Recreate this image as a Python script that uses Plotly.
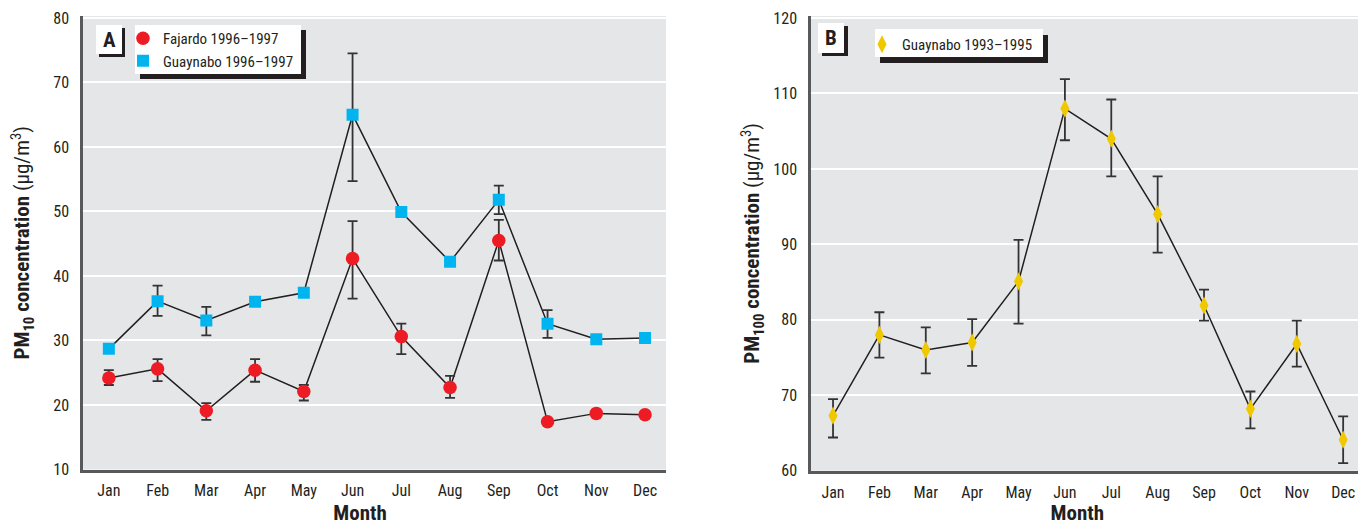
import plotly.graph_objects as go

months = ["Jan", "Feb", "Mar", "Apr", "May", "Jun", "Jul", "Aug", "Sep", "Oct", "Nov", "Dec"]

# Panel A: PM10 (µg/m3)
fajardo = [24.2, 25.6, 19.1, 25.4, 22.1, 42.7, 30.6, 22.7, 45.5, 17.4, 18.7, 18.5]
fajardo_hi = [25.4, 27.1, 20.3, 27.1, 23.1, 48.5, 32.6, 24.5, 48.7, None, None, None]
fajardo_lo = [23.1, 23.7, 17.7, 23.6, 20.7, 36.5, 27.9, 21.1, 42.4, None, None, None]

guaynabo = [28.7, 36.1, 33.1, 36.0, 37.4, 65.0, 49.9, 42.2, 51.8, 32.6, 30.2, 30.4]
guaynabo_hi = [None, 38.5, 35.2, None, None, 74.5, None, None, 54.0, 34.7, None, None]
guaynabo_lo = [None, 33.8, 30.8, None, None, 54.7, None, None, 49.6, 30.4, None, None]

# Panel B: PM100 (µg/m3)
pm100 = [67.3, 78.0, 76.0, 77.0, 85.1, 108.0, 104.0, 94.0, 81.9, 68.2, 76.8, 64.1]
pm100_hi = [69.5, 81.0, 79.0, 80.1, 90.6, 111.9, 109.2, 99.0, 84.0, 70.5, 79.9, 67.2]
pm100_lo = [64.4, 75.0, 72.9, 73.9, 79.5, 103.8, 99.0, 88.9, 79.9, 65.6, 73.8, 61.0]

FONT = "Liberation Sans Narrow, Arial Narrow, Roboto Condensed, DejaVu Sans Condensed, sans-serif"
TXT = "#231f20"
W, H = 1358, 525


def plus(v, hi):
    return [(h - x) if h is not None else 0 for x, h in zip(v, hi)]


def minus(v, lo):
    return [(x - l) if l is not None else 0 for x, l in zip(v, lo)]


def errs(v, hi, lo):
    return dict(type="data", symmetric=False, array=plus(v, hi), arrayminus=minus(v, lo),
                color="#333333", thickness=1.8, width=5)


fig = go.Figure()

# Panel A lines
fig.add_trace(go.Scatter(x=months, y=fajardo, mode="lines", line=dict(color="#231f20", width=1.5),
                         showlegend=False, hoverinfo="skip", xaxis="x", yaxis="y"))
fig.add_trace(go.Scatter(x=months, y=guaynabo, mode="lines", line=dict(color="#231f20", width=1.5),
                         showlegend=False, hoverinfo="skip", xaxis="x", yaxis="y"))
fig.add_trace(go.Scatter(x=months, y=fajardo, mode="markers", name="Fajardo 1996–1997",
                         marker=dict(symbol="circle", size=13.5, color="#ed1c24"),
                         error_y=errs(fajardo, fajardo_hi, fajardo_lo),
                         xaxis="x", yaxis="y", legend="legend"))
fig.add_trace(go.Scatter(x=months, y=guaynabo, mode="markers", name="Guaynabo 1996–1997",
                         marker=dict(symbol="square", size=12, color="#00b4ef"),
                         error_y=errs(guaynabo, guaynabo_hi, guaynabo_lo),
                         xaxis="x", yaxis="y", legend="legend"))

# Panel B
fig.add_trace(go.Scatter(x=months, y=pm100, mode="lines", line=dict(color="#231f20", width=1.5),
                         showlegend=False, hoverinfo="skip", xaxis="x2", yaxis="y2"))
fig.add_trace(go.Scatter(x=months, y=pm100, mode="markers", name="Guaynabo 1993–1995",
                         marker=dict(symbol="diamond-tall", size=13, color="#f0c800"),
                         error_y=errs(pm100, pm100_hi, pm100_lo),
                         xaxis="x2", yaxis="y2", legend="legend2"))


def px_x(p):
    return p / W


def px_y(p):
    return 1 - p / H


axis_common = dict(showline=True, linecolor="#58595b", linewidth=2.5, ticks="",
                   tickfont=dict(family=FONT, size=16, color=TXT), zeroline=False,
                   automargin=False)
title_font = dict(family=FONT, size=21, color=TXT)
NB = "&nbsp;"

fig.update_layout(
    width=W, height=H,
    margin=dict(l=0, r=0, t=0, b=0, autoexpand=False),
    paper_bgcolor="white",
    plot_bgcolor="#e5e6e8",
    font=dict(family=FONT, color=TXT),
    xaxis=dict(domain=[px_x(83), px_x(666)], anchor="y", type="category",
               categoryorder="array", categoryarray=months,
               range=[-0.53, 11.43], showgrid=False, ticklabelstandoff=5,
               title=dict(text="<b>Month</b>" + NB * 6, font=title_font, standoff=14),
               **axis_common),
    yaxis=dict(domain=[px_y(469.5), px_y(16)], anchor="x", range=[10, 80.3],
               tickvals=[10, 20, 30, 40, 50, 60, 70, 80], showgrid=True,
               gridcolor="white", gridwidth=1.5, ticklabelstandoff=8,
               title=dict(text="<b>PM<sub>10</sub> concentration</b> (µg/m<sup>3</sup>)",
                          font=title_font, standoff=18),
               **axis_common),
    xaxis2=dict(domain=[px_x(811), 1.0], anchor="y2", type="category",
                categoryorder="array", categoryarray=months,
                range=[-0.475, 11.32], showgrid=False, ticklabelstandoff=5,
                title=dict(text="<b>Month</b>" + NB * 3, font=title_font, standoff=14),
                **axis_common),
    yaxis2=dict(domain=[px_y(470.7), px_y(16)], anchor="x2", range=[60, 120.27],
                tickvals=[60, 70, 80, 90, 100, 110, 120], showgrid=True,
                gridcolor="white", gridwidth=1.5, ticklabelstandoff=8,
                title=dict(text="<b>PM<sub>100</sub> concentration</b> (µg/m<sup>3</sup>)",
                           font=title_font, standoff=8),
                **axis_common),
    legend=dict(x=px_x(123), y=px_y(22), xanchor="left", yanchor="top",
                bgcolor="rgba(0,0,0,0)", borderwidth=0,
                font=dict(family=FONT, size=15, color=TXT), tracegroupgap=0,
                itemsizing="trace"),
    legend2=dict(x=px_x(862), y=px_y(28), xanchor="left", yanchor="top",
                 bgcolor="rgba(0,0,0,0)", borderwidth=0,
                 font=dict(family=FONT, size=15, color=TXT), itemsizing="trace"),
)

shapes = []


def boxed(x0, y0, x1, y1, dx, dy):
    # shadow then white box, pixel coordinates
    shapes.append(dict(type="rect", xref="paper", yref="paper", layer="above",
                       x0=px_x(x0 + dx), x1=px_x(x1 + dx), y0=px_y(y1 + dy), y1=px_y(y0 + dy),
                       fillcolor="#231f20", line=dict(width=0)))
    shapes.append(dict(type="rect", xref="paper", yref="paper", layer="above",
                       x0=px_x(x0), x1=px_x(x1), y0=px_y(y1), y1=px_y(y0),
                       fillcolor="white", line=dict(width=0)))


boxed(96, 25, 122, 54, 3, 3)
boxed(135, 25, 301, 74, 5, 5)
boxed(818, 23, 844, 53, 4, 3)
boxed(875, 29, 1043, 57, 5, 6)
fig.update_layout(shapes=shapes)

fig.add_annotation(x=px_x(109), y=px_y(40), xref="paper", yref="paper", text="<b>A</b>",
                   xanchor="center", yanchor="middle",
                   showarrow=False, font=dict(family=FONT, size=21, color=TXT))
fig.add_annotation(x=px_x(831), y=px_y(38), xref="paper", yref="paper", text="<b>B</b>",
                   xanchor="center", yanchor="middle",
                   showarrow=False, font=dict(family=FONT, size=21, color=TXT))

fig.write_html("out.html")
